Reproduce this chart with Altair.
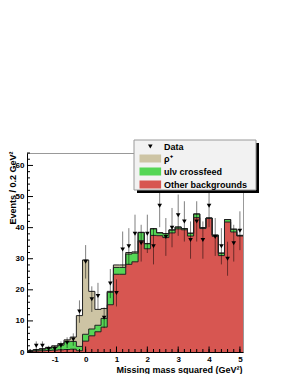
import math
import altair as alt
import pandas as pd

# ---- data ----
centers = [-1.8, -1.6, -1.4, -1.2, -1.0, -0.8, -0.6, -0.4, -0.2,
           0.0, 0.2, 0.4, 0.6, 0.8, 1.0, 1.2, 1.4, 1.6, 1.8,
           2.0, 2.2, 2.4, 2.6, 2.8, 3.0, 3.2, 3.4, 3.6, 3.8,
           4.0, 4.2, 4.4, 4.6, 4.8, 5.0]
data_counts = [None, 2, 2, 1, 1, 2, 3, 4, 13,
               29, 17, 18, 11, 22, 19, 33, 34, 38, 35,
               38, 34, 47, 37, 40, 44, 42, 36, 42, 36,
               47, 37, 34, 30, 35, 39]
other_bkg = [0.2, 0.3, 0.4, 0.5, 0.6, 0.7, 0.8, 0.9, 0.4,
             3.5, 5.2, 6.5, 8.0, 15.2, 25.0, 25.0, 28.2, 29.0, 35.8,
             33.2, 37.5, 37.4, 36.8, 38.3, 39.6, 39.3, 37.3, 43.2, 39.7,
             43.0, 37.2, 31.0, 41.8, 38.6, 37.3]
ulnu_cf = [0.2, 0.3, 0.5, 0.7, 1.0, 1.5, 2.5, 2.5, 1.4,
           2.2, 2.2, 2.1, 2.8, 4.0, 2.2, 2.2, 3.3, 2.8, 2.6,
           1.6, 2.1, 0.9, 1.2, 0.9, 0.6, 0.4, 0.9, 1.2, 0.3,
           0.1, 0.4, 0.8, 0.8, 0.9, 0.2]
rho_plus = [0.1, 0.2, 0.2, 0.3, 0.4, 0.5, 0.6, 1.4, 9.9,
            23.9, 12.1, 5.1, 3.2, 0.3, 0.8, 0.8, 0.5, 0.4, 0.1,
            0.1, 0.1, 0.1, 0.1, 0.1, 0, 0, 0, 0, 0,
            0, 0, 0, 0, 0, 0]
bin_half = 0.1
x_major = [-1, 0, 1, 2, 3, 4, 5]
y_major = [0, 10, 20, 30, 40, 50, 60]
x_minor = [round(-1.8 + 0.2 * i, 2) for i in range(35)]
y_minor = [v for v in range(0, 65, 2) if v % 10]

names = ["Data", "ρ⁺", "ulν crossfeed", "Other backgrounds"]
colors = ["#000000", "#cdc4a4", "#55d655", "#d75651"]

W, H = 216, 199
FONT = "Liberation Sans"

# ---- tables ----
red_top = other_bkg
green_top = [o + u for o, u in zip(other_bkg, ulnu_cf)]
total_top = [g + r for g, r in zip(green_top, rho_plus)]
edges = [round(c - bin_half, 2) for c in centers] + [round(centers[-1] + bin_half, 2)]
rows = []
for name, tops in [(names[1], total_top), (names[2], green_top), (names[3], red_top)]:
    vals = tops + [tops[-1]]
    for e, v in zip(edges, vals):
        rows.append({"edge": e, "top": round(v, 3), "series": name})
steps = pd.DataFrame(rows)

pts = pd.DataFrame([
    {"x": c, "n": n, "lo": n - math.sqrt(n), "hi": n + math.sqrt(n), "series": "Data"}
    for c, n in zip(centers, data_counts) if n is not None
])

xscale = alt.Scale(domain=[-1.9, 5.1], nice=False, zero=False)
yscale = alt.Scale(domain=[0, 64], nice=False)
color_scale = alt.Scale(domain=names, range=colors)
S = 8
rect_path = "M-1,-1H4.4V1H-1Z"
tri_path = "M1.12,-0.5H2.28L1.7,0.5Z"
shape_scale = alt.Scale(domain=names, range=[tri_path, rect_path, rect_path, rect_path])

leg = alt.Legend(title=None, orient="none", legendX=112, legendY=-11, padding=0,
                 symbolSize=S * S,
                 symbolStrokeColor="#333333", symbolStrokeWidth=0.8, symbolOpacity=1,
                 labelFont=FONT, labelFontWeight="bold", labelFontSize=9, labelColor="black",
                 labelOffset=16, rowPadding=0, labelLimit=300)

xaxis = alt.Axis(values=x_major, ticks=False, grid=False, domainColor="black",
                 labelFont=FONT, labelFontSize=8, labelFontWeight="bold", labelColor="black",
                 labelPadding=3, labelExpr="'' + datum.value",
                 title="Missing mass squared (GeV²)", titleFont=FONT, titleFontSize=9,
                 titleFontWeight="bold", titleColor="black", titleX=W - 1, titleY=17,
                 titleAlign="right", titleBaseline="middle")
yaxis = alt.Axis(values=y_major, ticks=False, grid=False, domainColor="black",
                 labelFont=FONT, labelFontSize=8, labelFontWeight="bold", labelColor="black",
                 labelPadding=3,
                 title="Events / 0.2 GeV²", titleFont=FONT, titleFontSize=9,
                 titleFontWeight="bold", titleColor="black", titleAngle=270,
                 titleX=-15, titleY=-2, titleAlign="right", titleBaseline="middle")

X = lambda f: alt.X(f, scale=xscale, axis=xaxis)
Y = lambda f: alt.Y(f, scale=yscale, axis=yaxis, stack=None)

base_steps = alt.Chart(steps)

def area_layer(name):
    return base_steps.transform_filter(alt.datum.series == name).mark_area(
        interpolate="step-after").encode(
        x=X("edge:Q"), y=Y("top:Q"),
        color=alt.Color("series:N", scale=color_scale, legend=leg),
    )

def line_layer(name):
    return base_steps.transform_filter(alt.datum.series == name).mark_line(
        interpolate="step-after", color="#222222", strokeWidth=1).encode(
        x=X("edge:Q"), y=Y("top:Q"))

one = pd.DataFrame({"a": [0]})
legend_shadow = alt.Chart(one).mark_rect(color="black").encode(
    x=alt.value(110), x2=alt.value(232), y=alt.value(-10), y2=alt.value(40))
legend_box = alt.Chart(one).mark_rect(fill="#f2f2f2", stroke="#999999", strokeWidth=1).encode(
    x=alt.value(107), x2=alt.value(229), y=alt.value(-13), y2=alt.value(37))

ytick_major = alt.Chart(pd.DataFrame({"v": y_major})).mark_rule(color="black").encode(
    y=Y("v:Q"), x=alt.value(0), x2=alt.value(6))
ytick_minor = alt.Chart(pd.DataFrame({"v": y_minor})).mark_rule(color="black").encode(
    y=Y("v:Q"), x=alt.value(0), x2=alt.value(3))
xtick_major = alt.Chart(pd.DataFrame({"v": x_major})).mark_rule(color="black").encode(
    x=X("v:Q"), y=alt.value(H), y2=alt.value(H - 5.5))
xtick_minor = alt.Chart(pd.DataFrame({"v": x_minor})).mark_rule(color="black").encode(
    x=X("v:Q"), y=alt.value(H), y2=alt.value(H - 3))

errbars = alt.Chart(pts).mark_rule(color="black", opacity=0.5, strokeWidth=1).encode(
    x=X("x:Q"), y=Y("lo:Q"), y2="hi:Q")
points = alt.Chart(pts).mark_point(filled=True, size=S * S, opacity=1, xOffset=-6.8).encode(
    x=X("x:Q"), y=Y("n:Q"),
    color=alt.Color("series:N", scale=color_scale, legend=leg),
    shape=alt.Shape("series:N", scale=shape_scale, legend=leg),
)

chart = alt.layer(
    area_layer(names[1]),
    area_layer(names[2]),
    area_layer(names[3]),
    line_layer(names[1]),
    line_layer(names[2]),
    line_layer(names[3]),
    ytick_major, ytick_minor, xtick_major, xtick_minor,
    errbars, points,
    legend_shadow, legend_box,
).properties(
    width=W, height=H,
    autosize=alt.AutoSizeParams(type="none"),
    padding={"left": 19, "top": 145, "right": 40, "bottom": 22},
    background="white",
).configure_view(stroke="#999999", strokeWidth=1)

chart.save("out.html", embed_options={"renderer": "svg", "actions": False})
